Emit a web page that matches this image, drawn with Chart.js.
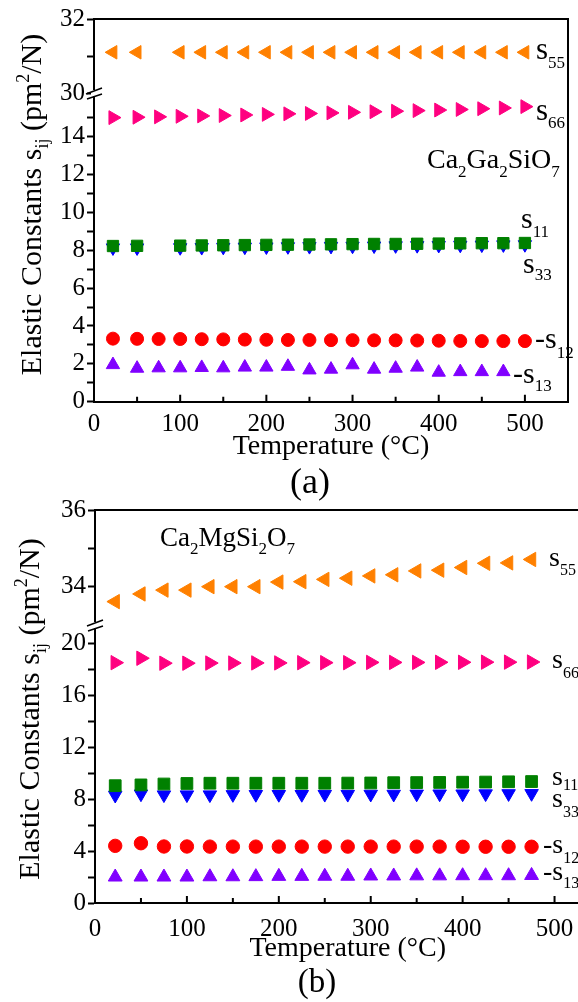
<!DOCTYPE html>
<html>
<head>
<meta charset="utf-8">
<script src="https://cdn.jsdelivr.net/npm/chart.js@4"></script>
<style>
html, body { margin: 0; padding: 0; overflow: hidden; background: #fff; width: 578px; height: 1002px; }
#wa { position: absolute; left: 0; top: 0; width: 578px; height: 505px; z-index: 2; }
#wb { position: absolute; left: 0; top: 490px; width: 612px; height: 512px; z-index: 1; }
</style>
</head>
<body>
<div id="wa"><canvas id="ga"></canvas></div>
<div id="wb"><canvas id="gb"></canvas></div>
<script>
// (a) Ca2Ga2SiO7
var tA = [22, 50, 75, 100, 125, 150, 175, 200, 225, 250, 275, 300, 325, 350, 375, 400, 425, 450, 475, 500];
var tAno75 = [22, 50, 100, 125, 150, 175, 200, 225, 250, 275, 300, 325, 350, 375, 400, 425, 450, 475, 500];
var tA13 = [22, 50, 75, 100, 125, 150, 175, 200, 225, 250, 275, 300, 325, 350, 375, 400, 425, 450, 475];
var s55A = [31.1, 31.1, 31.1, 31.1, 31.1, 31.1, 31.1, 31.1, 31.1, 31.1, 31.1, 31.1, 31.1, 31.1, 31.1, 31.1, 31.1, 31.1, 31.1];
var s66A = [15.0, 15.02, 15.04, 15.07, 15.09, 15.11, 15.14, 15.17, 15.2, 15.22, 15.25, 15.28, 15.31, 15.34, 15.37, 15.4, 15.43, 15.47, 15.51, 15.58];
var s11A = [8.22, 8.23, 8.24, 8.25, 8.26, 8.27, 8.28, 8.29, 8.3, 8.31, 8.32, 8.33, 8.33, 8.34, 8.35, 8.36, 8.37, 8.37, 8.38];
var s33A = [8.13, 8.13, 8.14, 8.15, 8.16, 8.17, 8.18, 8.19, 8.2, 8.21, 8.22, 8.23, 8.24, 8.25, 8.26, 8.27, 8.28, 8.29, 8.3];
var s12A = [3.33, 3.32, 3.31, 3.31, 3.3, 3.29, 3.28, 3.27, 3.26, 3.26, 3.25, 3.25, 3.24, 3.24, 3.23, 3.22, 3.21, 3.2, 3.2, 3.2];
var s13A = [1.95, 1.76, 1.78, 1.78, 1.8, 1.78, 1.82, 1.82, 1.86, 1.67, 1.71, 1.94, 1.71, 1.76, 1.82, 1.55, 1.58, 1.58, 1.58];

// (b) Ca2MgSi2O7
var tB = [22, 50, 75, 100, 125, 150, 175, 200, 225, 250, 275, 300, 325, 350, 375, 400, 425, 450, 475];
var s55B = [33.61, 33.81, 33.91, 33.91, 34.0, 34.0, 34.0, 34.12, 34.13, 34.19, 34.22, 34.28, 34.31, 34.41, 34.43, 34.5, 34.61, 34.62, 34.71];
var s66B = [18.5, 18.84, 18.46, 18.46, 18.47, 18.47, 18.48, 18.48, 18.5, 18.5, 18.5, 18.52, 18.52, 18.52, 18.53, 18.53, 18.54, 18.54, 18.55];
var s11B = [9.03, 9.09, 9.16, 9.2, 9.22, 9.22, 9.22, 9.22, 9.22, 9.22, 9.23, 9.24, 9.26, 9.27, 9.28, 9.3, 9.31, 9.33, 9.35];
var s33B = [8.3, 8.4, 8.33, 8.33, 8.33, 8.35, 8.36, 8.36, 8.36, 8.37, 8.37, 8.38, 8.38, 8.39, 8.4, 8.4, 8.41, 8.42, 8.43];
var s12B = [4.4, 4.6, 4.35, 4.35, 4.34, 4.34, 4.34, 4.34, 4.34, 4.34, 4.34, 4.34, 4.34, 4.34, 4.34, 4.33, 4.33, 4.33, 4.33];
var s13B = [2.0, 2.0, 2.0, 2.0, 2.02, 2.02, 2.03, 2.05, 2.05, 2.06, 2.06, 2.08, 2.08, 2.09, 2.09, 2.1, 2.1, 2.1, 2.12];

var FONT = '"Liberation Serif", "Times New Roman", serif';
Chart.defaults.font.family = FONT;
Chart.defaults.color = '#000';

function pts(xs, ys) {
    return xs.map(function (x, i) { return { x: x, y: ys[i] }; });
}

function ds(data, axis, color, style, rot, r) {
    return {
        data: data,
        yAxisID: axis,
        pointStyle: style,
        rotation: rot,
        pointRadius: r,
        pointHoverRadius: r,
        backgroundColor: color,
        borderColor: color,
        borderWidth: 1
    };
}

// draws text pieces with sub/superscripts; part = [text, size, dy]
function rich(ctx, x, y, parts, align) {
    var w = 0;
    parts.forEach(function (p) {
        ctx.font = p[1] + 'px ' + FONT;
        w += ctx.measureText(p[0]).width;
    });
    var cx = align === 'center' ? x - w / 2 : x;
    parts.forEach(function (p) {
        ctx.font = p[1] + 'px ' + FONT;
        ctx.fillText(p[0], cx, y + (p[2] || 0));
        cx += ctx.measureText(p[0]).width;
    });
}

var decor = {
    id: 'decor',
    afterDraw: function (chart, args, o) {
        var ctx = chart.ctx;
        var a = chart.chartArea;
        var xs = chart.scales.x;
        ctx.save();
        ctx.strokeStyle = '#000';
        ctx.lineWidth = 2;
        // top and right frame
        ctx.beginPath();
        ctx.moveTo(a.left, a.top);
        ctx.lineTo(a.right, a.top);
        ctx.lineTo(a.right, a.bottom);
        ctx.stroke();
        // inward x ticks
        ctx.beginPath();
        for (var v = 0; v <= 550; v += 50) {
            var px = xs.getPixelForValue(v);
            ctx.moveTo(px, a.bottom);
            ctx.lineTo(px, a.bottom - (v % 100 === 0 ? 7 : 5));
        }
        ctx.stroke();
        // axis break
        var yb = chart.scales.yTop.bottom;
        var L = a.left;
        ctx.fillStyle = '#fff';
        ctx.fillRect(L - 3, yb - 3, 6, 6);
        ctx.lineWidth = 1.5;
        ctx.beginPath();
        ctx.moveTo(L - 8, yb + 1);
        ctx.lineTo(L + 8, yb - 5);
        ctx.moveTo(L - 7, yb + 6);
        ctx.lineTo(L + 8, yb + 1);
        ctx.stroke();
        // texts
        ctx.fillStyle = '#000';
        ctx.textBaseline = 'alphabetic';
        ctx.textAlign = 'left';
        ctx.save();
        ctx.translate(o.ytitle[0], o.ytitle[1]);
        ctx.rotate(-Math.PI / 2);
        rich(ctx, 0, 0, [['Elastic Constants s', 30], ['ij', 18, 7], [' (pm', 30], ['2', 18, -12], ['/N)', 30]], 'center');
        ctx.restore();
        o.labels.forEach(function (l) {
            rich(ctx, l[0], l[1], l[2], l[3] || 'left');
        });
        ctx.restore();
    }
};

function makeChart(id, cfg) {
    return new Chart(document.getElementById(id), {
        type: 'scatter',
        data: { datasets: cfg.datasets },
        options: {
            responsive: true,
            maintainAspectRatio: false,
            animation: false,
            events: [],
            layout: { padding: cfg.padding },
            plugins: {
                legend: { display: false },
                tooltip: { enabled: false },
                decor: cfg.decor
            },
            scales: {
                x: {
                    type: 'linear',
                    min: 0,
                    max: 550,
                    border: { color: '#000', width: 2 },
                    grid: { drawOnChartArea: false, drawTicks: false },
                    ticks: {
                        stepSize: 50,
                        autoSkip: false,
                        maxRotation: 0,
                        padding: cfg.xpad,
                        font: { size: 25 },
                        callback: function (v) { return v % 100 === 0 ? v : ''; }
                    },
                    title: { display: true, text: 'Temperature (°C)', font: { size: 28 }, padding: { top: 4, bottom: 4 } },
                    afterFit: function (s) { s.height = 66; }
                },
                // lower segment of the broken axis
                y: {
                    type: 'linear',
                    position: 'left',
                    stack: 'v',
                    stackWeight: cfg.wLow,
                    min: 0,
                    max: cfg.lowMax,
                    border: { color: '#000', width: 2 },
                    grid: {
                        drawOnChartArea: false, tickLength: 7, tickWidth: 2,
                        tickColor: function (c) { return c.tick && c.tick.value > cfg.lowTickMax ? 'rgba(0,0,0,0)' : '#000'; }
                    },
                    ticks: {
                        stepSize: cfg.lowStep,
                        includeBounds: false,
                        autoSkip: false,
                        padding: 2,
                        font: { size: 25 },
                        callback: function (v) { return (v % cfg.lowLabel === 0 && v <= cfg.lowLabelMax) ? v : ''; }
                    },
                    afterFit: function (s) { s.width = cfg.yw; }
                },
                // upper segment
                yTop: {
                    type: 'linear',
                    position: 'left',
                    stack: 'v',
                    stackWeight: cfg.wTop,
                    min: cfg.top[0],
                    max: cfg.top[1],
                    border: { color: '#000', width: 2 },
                    grid: {
                        drawOnChartArea: false, tickLength: 7, tickWidth: 2,
                        tickColor: function (c) { return c.tick && c.tick.value < cfg.top[0] + 0.5 && cfg.hideTopMin ? 'rgba(0,0,0,0)' : '#000'; }
                    },
                    ticks: {
                        stepSize: 1,
                        autoSkip: false,
                        padding: 2,
                        font: { size: 25 },
                        callback: function (v) { return (v % 2 === 0 && !(cfg.hideTopMin && v === cfg.top[0])) ? v : ''; }
                    },
                    afterFit: function (s) { s.width = cfg.yw; }
                }
            }
        },
        plugins: [decor]
    });
}

makeChart('ga', {
    datasets: [
        ds(pts(tAno75, s55A), 'yTop', '#FF8000', 'triangle', 270, 7.8),
        ds(pts(tA, s66A), 'y', '#FF0080', 'triangle', 90, 8),
        ds(pts(tAno75, s11A), 'y', '#008000', 'rect', 0, 8),
        ds(pts(tAno75, s33A), 'y', '#0000FF', 'triangle', 180, 7.7),
        ds(pts(tA, s12A), 'y', '#FF0000', 'circle', 0, 6.5),
        ds(pts(tA13, s13A), 'y', '#8000FF', 'triangle', 0, 7.7)
    ],
    padding: { left: 0, top: 19, right: 10, bottom: 37.3 },
    xpad: 8,
    yw: 94,
    top: [30, 32],
    hideTopMin: false,
    wTop: 74,
    wLow: 308.7,
    lowMax: 16.3,
    lowStep: 1,
    lowLabel: 2,
    lowLabelMax: 14,
    lowTickMax: 15.5,
    decor: {
        ytitle: [41, 204.5],
        labels: [
            [536, 59, [['s', 31], ['55', 17, 9]]],
            [536, 120, [['s', 31], ['66', 17, 8]]],
            [427, 168, [['Ca', 28], ['2', 17, 9], ['Ga', 28], ['2', 17, 9], ['SiO', 28], ['7', 17, 9]]],
            [521, 228, [['s', 30], ['11', 17, 9]]],
            [523, 273, [['s', 30], ['33', 17, 7]]],
            [535, 348, [['-s', 30], ['12', 17, 10]]],
            [513, 383, [['-s', 30], ['13', 17, 8]]],
            [310, 493, [['(a)', 36]], 'center']
        ]
    }
});

makeChart('gb', {
    datasets: [
        ds(pts(tB, s55B), 'yTop', '#FF8000', 'triangle', 270, 8.3),
        ds(pts(tB, s66B), 'y', '#FF0080', 'triangle', 90, 8.3),
        ds(pts(tB, s11B), 'y', '#008000', 'rect', 0, 8.3),
        ds(pts(tB, s33B), 'y', '#0000FF', 'triangle', 180, 7.8),
        ds(pts(tB, s12B), 'y', '#FF0000', 'circle', 0, 6.7),
        ds(pts(tB, s13B), 'y', '#8000FF', 'triangle', 0, 8)
    ],
    padding: { left: 0, top: 20, right: 10.3, bottom: 33 },
    xpad: 11.5,
    yw: 95,
    top: [33, 36],
    hideTopMin: true,
    wTop: 115,
    wLow: 278,
    lowMax: 21.4,
    lowStep: 2,
    lowLabel: 4,
    lowLabelMax: 20,
    lowTickMax: 20.5,
    decor: {
        ytitle: [38.5, 219],
        labels: [
            [160, 56, [['Ca', 27], ['2', 17, 8], ['MgSi', 27], ['2', 17, 8], ['O', 27], ['7', 17, 8]]],
            [549, 76, [['s', 28], ['55', 16, 9]]],
            [552, 178, [['s', 28], ['66', 16, 10]]],
            [552, 295, [['s', 28], ['11', 16, 5]]],
            [552, 317, [['s', 28], ['33', 16, 10]]],
            [543, 363, [['-s', 28], ['12', 16, 10]]],
            [543, 390, [['-s', 28], ['13', 16, 8]]],
            [317, 502, [['(b)', 33]], 'center']
        ]
    }
});
</script>
</body>
</html>
